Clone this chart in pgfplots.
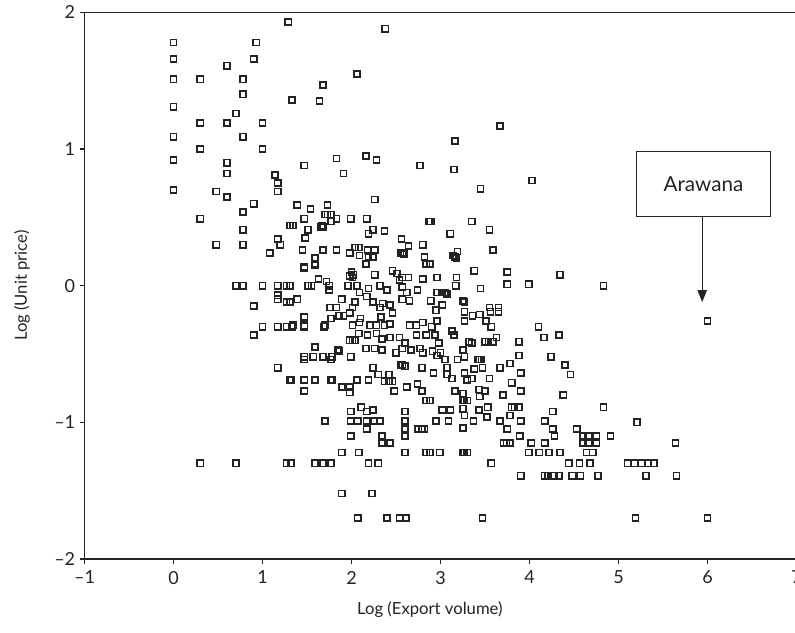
\documentclass[border=0pt]{standalone}
\usepackage{fontspec}
\setmainfont{Lato}
\usepackage{pgfplots}
\pgfplotsset{compat=1.18}
\usetikzlibrary{arrows.meta}
\definecolor{ink}{RGB}{35,35,35}

\begin{document}
\begin{tikzpicture}
\begin{axis}[name=ax,scale only axis,width=534pt,height=410pt,
  xmin=-1,xmax=7,ymin=-2,ymax=2,
  xtick={-1,0,1,2,3,4,5,6,7},xticklabels={–1,0,1,2,3,4,5,6,7},
  ytick={-2,-1,0,1,2},yticklabels={–2,–1,0,1,2},
  xtick pos=bottom,ytick pos=left,tick align=outside,major tick length=3.5pt,
  tick style={ink,line width=0.8pt},
  axis line style={ink,line width=1.1pt},
  tick label style={font=\fontsize{13.5}{15}\selectfont,text=ink},
  x tick label style={yshift=-2pt},
  label style={font=\fontsize{12.5}{14}\selectfont,text=ink},
  xlabel={Log (Export volume)},ylabel={Log (Unit price)},
  xlabel style={at={(axis description cs:0.485,-0.093)},anchor=center},
  ylabel style={at={(axis description cs:-0.088,0.5)},anchor=center},
  clip=false]
\addplot[only marks,mark=square,mark size=2.3pt,mark options={draw=ink,line width=1.2pt}] coordinates {
% upper left
(0,1.78) (0,1.66) (0,1.51) (0,1.31) (0,1.09) (0,0.92) (0,0.70)
(0.30,1.51) (0.30,1.19) (0.30,1.00) (0.30,0.49) (0.30,-1.30)
(0.48,0.69) (0.48,0.30) (0.60,1.61) (0.60,1.19) (0.70,1.26) (0.78,1.51) (0.78,1.40) (0.78,1.09)
(0.90,1.66) (0.93,1.78) (0.60,0.90) (0.60,0.82) (0.60,0.65) (1.14,0.81) (1.17,0.75) (1.17,0.69)
(0.90,0.60) (0.78,0.54) (0.78,0.41) (0.78,0.30) (1.17,0.34) (1.20,0.30) (1.08,0.24) (1.31,0.44)
(1.00,1.00) (1.00,1.19) (1.29,1.93) (2.38,1.88) (2.06,1.55) (1.68,1.47) (1.64,1.35) (1.33,1.36)
(3.67,1.17) (3.16,1.06)
% zero row and near
(0.70,0) (0.78,0) (1.00,0) (1.17,0) (1.31,0) (1.51,0) (1.55,0) (1.75,0) (1.96,0) (2.06,0)
(2.19,-0.02) (2.32,0) (2.40,-0.03) (2.57,-0.01) (2.74,-0.03) (1.27,0) (1.17,-0.07) (1.17,-0.10)
(1.27,-0.12) (1.39,-0.10) (0.90,-0.15)
(1.00,-0.30) (1.17,-0.30) (1.27,-0.30) (1.33,-0.30) (1.47,-0.30) (1.69,-0.30) (0.90,-0.36) (1.47,-0.23)
(1.47,-0.52) (1.57,-0.52) (1.68,-0.52) (1.78,-0.52) (1.85,-0.47) (1.99,-0.52) (1.17,-0.60)
(1.31,-0.69) (1.47,-0.69) (1.59,-0.69) (1.78,-0.69) (2.06,-0.69) (1.47,-0.77) (1.90,-0.74) (1.98,-0.78)
(1.47,0.13) (1.59,0.20) (1.59,0.16) (0.70,-1.30) (1.27,-1.30)
% middle upper
(1.47,0.88) (1.83,0.93) (1.91,0.82) (2.16,0.95) (2.28,0.92) (2.77,0.88) (2.26,0.63) (1.39,0.59)
(1.54,0.56) (1.73,0.59) (1.70,0.52) (1.73,0.52) (1.77,0.52) (1.47,0.49) (1.34,0.44) (1.83,0.49)
(1.99,0.49) (2.17,0.49) (1.77,0.47) (1.66,0.43) (1.68,0.43) (1.67,0.44) (1.51,0.41) (1.48,0.35)
(2.24,0.41) (2.19,0.38) (2.37,0.40) (2.87,0.47) (2.56,0.34) (2.64,0.29) (2.57,0.24) (2.55,0.24)
(2.59,0.23) (2.80,0.30) (1.45,0.26) (1.68,0.26) (1.83,0.26) (1.98,0.24) (2.04,0.28) (2.08,0.28)
(2.09,0.22) (2.18,0.26) (2.26,0.26) (2.19,0.21) (2.24,0.21) (1.59,0.15) (2.16,0.16) (2.82,0.21)
(2.84,0.16) (1.47,0.14) (2.00,0.10) (2.01,0.06) (1.98,0.07) (2.02,0.08) (1.63,0.05) (1.72,0.03)
(1.75,-0.03) (2.09,-0.05) (2.26,0.08) (2.46,0.11) (2.51,0.09) (2.54,0.04) (2.57,0.06) (2.64,0.06)
(2.80,0.05) (2.62,-0.05) (1.31,-0.12) (1.89,-0.10) (2.04,-0.12) (2.17,-0.08) (2.24,-0.12)
(2.35,-0.13) (2.43,-0.14) (2.57,-0.10) (2.65,-0.11) (1.76,-0.16) (1.83,-0.16) (2.01,-0.16) (2.32,-0.16)
% middle lower
(1.47,-0.29) (1.34,-0.29) (1.70,-0.29) (1.77,-0.24) (1.86,-0.22) (1.91,-0.22) (1.98,-0.20)
(2.01,-0.29) (2.09,-0.27) (2.10,-0.24) (2.21,-0.29) (2.28,-0.29) (2.33,-0.23) (2.37,-0.29)
(2.43,-0.28) (2.46,-0.20) (2.65,-0.29) (2.73,-0.29) (2.80,-0.27) (2.01,-0.40) (1.98,-0.40)
(2.04,-0.40) (2.08,-0.35) (2.18,-0.36) (2.28,-0.35) (2.34,-0.39) (2.43,-0.38) (2.54,-0.38)
(2.60,-0.42) (2.73,-0.36) (2.84,-0.36) (2.16,-0.46) (2.26,-0.46) (2.34,-0.47) (2.50,-0.49)
(2.57,-0.46) (2.67,-0.47) (2.77,-0.46) (2.80,-0.49) (1.59,-0.45) (1.47,-0.54) (1.77,-0.54)
(1.86,-0.48) (2.57,-0.58) (2.55,-0.58) (2.60,-0.59) (2.79,-0.60) (2.24,-0.60) (2.30,-0.65)
(2.42,-0.65) (2.42,-0.70) (2.37,-0.70) (2.46,-0.70) (2.19,-0.69) (1.89,-0.74) (1.98,-0.74)
(1.77,-0.69) (1.32,-0.69) (2.48,-0.77) (2.62,-0.74) (2.74,-0.72) (2.79,-0.77) (2.84,-0.84)
(1.99,-0.92) (2.11,-0.89) (2.17,-0.92) (2.24,-0.91) (2.60,-0.92) (1.70,-0.99) (1.99,-0.99)
(2.07,-0.99) (2.17,-0.99) (2.25,-0.99) (2.32,-0.99) (2.17,-1.05) (2.60,-0.99) (2.60,-1.05)
(2.60,-1.10) (2.75,-1.05) (2.79,-1.05) (2.82,-1.05) (1.99,-1.10) (2.34,-1.10) (2.34,-1.15)
(2.43,-1.15) (1.89,-1.22) (2.08,-1.22) (2.60,-1.22) (2.84,-1.22) (1.32,-1.30) (1.59,-1.30)
(1.68,-1.30) (1.77,-1.30) (2.19,-1.30) (2.30,-1.30)
% right lower
(2.95,-0.18) (3.27,-0.19) (3.36,-0.22) (3.44,-0.21) (3.56,-0.19) (3.65,-0.19) (2.96,-0.26)
(3.27,-0.26) (3.51,-0.26) (3.57,-0.30) (2.90,-0.30) (2.94,-0.36) (2.98,-0.42) (3.13,-0.33)
(3.15,-0.36) (3.32,-0.41) (3.35,-0.42) (3.50,-0.41) (3.54,-0.41) (3.59,-0.41) (3.63,-0.38)
(3.88,-0.41) (4.10,-0.30) (4.16,-0.38) (4.33,-0.36) (2.91,-0.48) (2.96,-0.51) (3.00,-0.49)
(3.05,-0.54) (3.25,-0.47) (3.19,-0.54) (3.27,-0.52) (3.42,-0.54) (3.44,-0.54) (3.46,-0.54)
(3.88,-0.51) (4.24,-0.52) (4.40,-0.58) (4.46,-0.65) (3.78,-0.57) (3.67,-0.60) (3.90,-0.64)
(3.55,-0.68) (3.38,-0.61) (3.47,-0.60) (3.27,-0.64) (3.07,-0.60) (2.92,-0.64) (3.07,-0.65)
(3.13,-0.68) (3.30,-0.69) (3.35,-0.68) (3.80,-0.71) (3.90,-0.77) (3.70,-0.80) (3.43,-0.76)
(3.50,-0.77) (3.44,-0.81) (3.25,-0.79) (3.16,-0.77) (3.25,-0.84) (3.27,-0.84) (3.30,-0.84)
(4.38,-0.80) (2.88,-0.84) (3.02,-0.91) (3.11,-0.91) (3.25,-0.90) (3.43,-0.91) (3.53,-0.89)
(3.80,-0.89) (3.83,-0.89) (3.88,-0.89) (4.26,-0.92) (3.27,-0.95) (3.52,-0.96) (3.78,-0.95)
(2.95,-0.99) (3.09,-0.99) (3.37,-0.99) (3.67,-0.99) (3.90,-0.99) (3.75,-1.05) (3.25,-1.04)
(4.17,-0.99) (4.26,-1.05) (4.28,-1.10) (3.89,-1.10) (4.53,-1.05) (4.60,-1.10) (4.66,-1.10)
(4.75,-1.10) (4.60,-1.15) (4.66,-1.15) (4.75,-1.15) (4.02,-1.15) (4.17,-1.15) (3.71,-1.15)
(3.74,-1.15) (3.78,-1.15) (3.99,-1.22) (4.11,-1.22) (4.22,-1.22) (4.34,-1.22) (4.64,-1.22)
(4.71,-1.22) (2.99,-1.22) (3.25,-1.22) (3.27,-1.22) (3.30,-1.22) (2.88,-1.22) (3.57,-1.30)
(4.44,-1.30) (4.56,-1.30) (4.68,-1.30) (3.90,-1.39) (4.17,-1.39) (4.21,-1.39) (4.26,-1.39)
(4.28,-1.39) (4.33,-1.39) (4.48,-1.39) (4.57,-1.39) (4.77,-1.39)
% right upper
(3.15,0.85) (3.45,0.71) (4.03,0.77) (2.89,0.47) (3.35,0.47) (3.55,0.41) (3.11,0.38) (3.19,0.25)
(3.16,0.21) (3.14,0.22) (3.18,0.20) (3.59,0.26) (2.88,0.16) (3.38,0.11) (3.75,0.10) (3.75,0.01)
(3.99,0.01) (4.34,0.08) (2.96,0.06) (3.18,0.06) (3.17,0) (3.45,-0.02) (2.96,-0.05) (3.02,-0.05)
(3.05,-0.05) (3.07,-0.06) (3.02,-0.14) (3.27,-0.12) (3.25,-0.11) (3.55,-0.16) (3.65,-0.16) (2.89,-0.11)
% far right and bottom
(4.83,0) (6.00,-0.26) (4.83,-0.89) (5.21,-1.00) (5.64,-1.15) (4.91,-1.10)
(5.10,-1.30) (5.18,-1.30) (5.26,-1.30) (5.33,-1.30) (5.40,-1.30) (5.31,-1.39) (5.65,-1.39)
(5.19,-1.70) (6.00,-1.70) (1.89,-1.52) (2.23,-1.52) (2.07,-1.70) (2.40,-1.70) (2.54,-1.70)
(2.61,-1.70) (3.47,-1.70)
};
\draw[ink,line width=0.9pt,fill=white] (axis cs:5.20,0.508) rectangle (axis cs:6.71,0.983);
\node[ink,font=\fontsize{15.5}{17}\selectfont] at (axis cs:5.955,0.745) {Arawana};
\draw[ink,line width=1pt,-{Triangle[length=9pt,width=7pt]}] (axis cs:5.94,0.508) -- (axis cs:5.94,-0.12);
\end{axis}
\pgfresetboundingbox
\path[use as bounding box] ([shift={(-63.4pt,-54.75pt)}]ax.south west) rectangle ([shift={(532.85pt,419.25pt)}]ax.south west);
\end{tikzpicture}
\end{document}
